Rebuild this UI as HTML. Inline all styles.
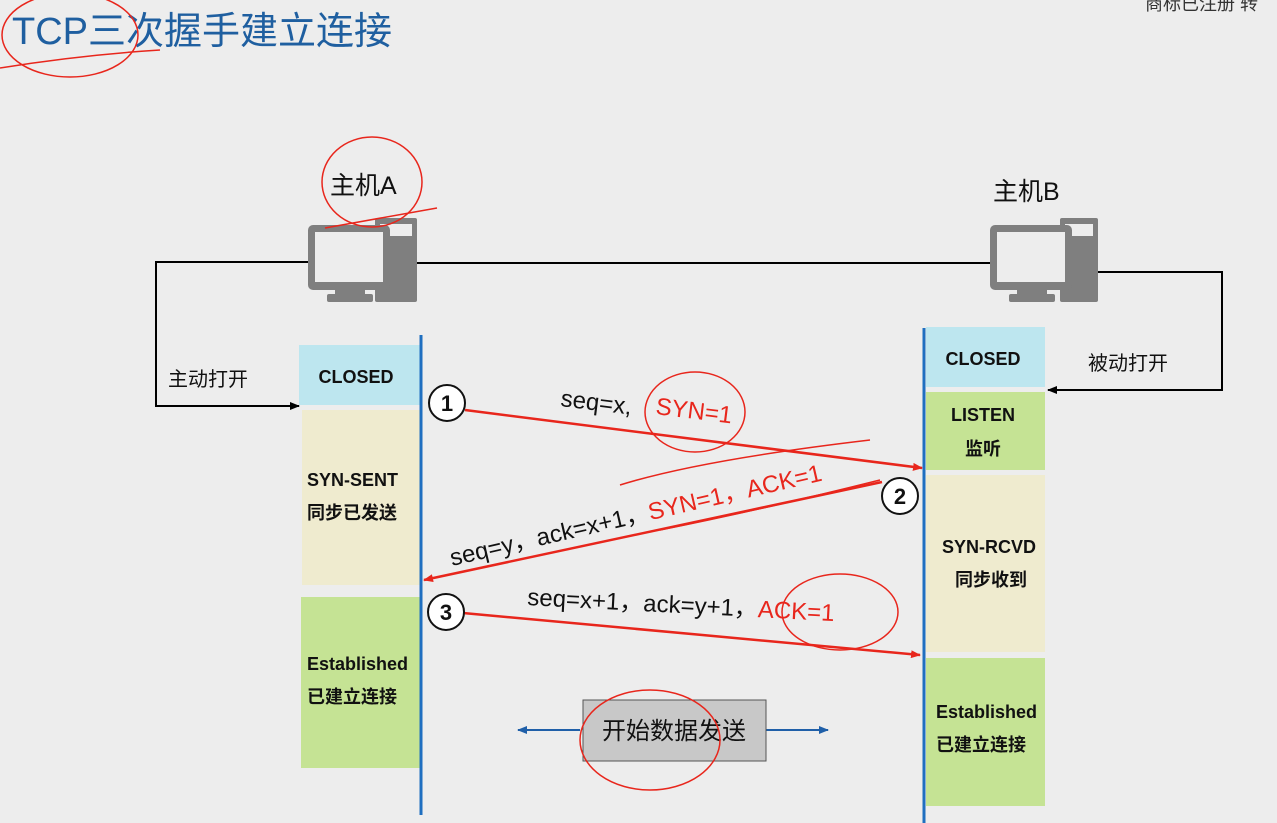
<!DOCTYPE html>
<html><head><meta charset="utf-8"><style>
body{margin:0;background:#ededed;}
svg{display:block;font-family:"Liberation Sans","Noto Sans CJK SC",sans-serif;}
</style></head><body>
<svg width="1277" height="823" viewBox="0 0 1277 823" xmlns="http://www.w3.org/2000/svg">
<defs>
<marker id="ak" markerUnits="userSpaceOnUse" markerWidth="10" markerHeight="8" refX="9" refY="4" orient="auto"><path d="M0,0 L10,4 L0,8 z" fill="#000"/></marker>
<marker id="ar" markerUnits="userSpaceOnUse" markerWidth="10" markerHeight="8" refX="9" refY="4" orient="auto"><path d="M0,0 L10,4 L0,8 z" fill="#e8261c"/></marker>
<marker id="ab" markerUnits="userSpaceOnUse" markerWidth="10" markerHeight="8" refX="9" refY="4" orient="auto"><path d="M0,0 L10,4 L0,8 z" fill="#1f5fa8"/></marker>
</defs>
<rect width="1277" height="823" fill="#ededed"/>
<text x="12" y="44" font-size="38" fill="#1f5fa0">TCP三次握手建立连接</text>
<text x="1145" y="10" font-size="18" fill="#333">商标已注册 转</text>
<polyline points="308,262 156,262 156,406 299,406" fill="none" stroke="#000" stroke-width="2" marker-end="url(#ak)"/>
<line x1="417" y1="263" x2="990" y2="263" stroke="#000" stroke-width="2"/>
<polyline points="1098,272 1222,272 1222,390 1048,390" fill="none" stroke="#000" stroke-width="2" marker-end="url(#ak)"/>
<g fill="#7f7f7f">
<rect x="375" y="218" width="42" height="84" rx="2"/>
<rect x="380" y="224" width="32" height="12" fill="#ededed"/>
<rect x="308" y="225" width="82" height="65" rx="5"/>
<rect x="315" y="232" width="68" height="50" fill="#ededed"/>
<rect x="335" y="289" width="30" height="7"/>
<rect x="327" y="294" width="46" height="8" rx="2"/>
</g>
<g fill="#7f7f7f">
<rect x="1060" y="218" width="38" height="84" rx="2"/>
<rect x="1065" y="224" width="28" height="12" fill="#ededed"/>
<rect x="990" y="225" width="82" height="65" rx="5"/>
<rect x="997" y="232" width="68" height="50" fill="#ededed"/>
<rect x="1017" y="289" width="30" height="7"/>
<rect x="1009" y="294" width="46" height="8" rx="2"/>
</g>
<text x="330" y="194" font-size="25" fill="#111">主机A</text>
<text x="993" y="200" font-size="25" fill="#111">主机B</text>
<text x="168" y="386" font-size="20" fill="#111">主动打开</text>
<text x="1088" y="370" font-size="20" fill="#111">被动打开</text>
<g font-weight="bold" font-size="18" fill="#111">
<rect x="299" y="345" width="121" height="60" fill="#bde6ef"/>
<text x="356" y="383" text-anchor="middle">CLOSED</text>
<rect x="302" y="410" width="118" height="175" fill="#efebcf"/>
<text x="307" y="486">SYN-SENT</text><text x="307" y="519">同步已发送</text>
<rect x="301" y="597" width="119" height="171" fill="#c5e394"/>
<text x="307" y="670">Established</text><text x="307" y="703">已建立连接</text>
<rect x="926" y="327" width="119" height="60" fill="#bde6ef"/>
<text x="983" y="365" text-anchor="middle">CLOSED</text>
<rect x="926" y="392" width="119" height="78" fill="#c5e394"/>
<text x="983" y="421" text-anchor="middle">LISTEN</text><text x="983" y="455" text-anchor="middle">监听</text>
<rect x="926" y="475" width="119" height="177" fill="#efebcf"/>
<text x="942" y="553">SYN-RCVD</text><text x="955" y="586">同步收到</text>
<rect x="926" y="658" width="119" height="148" fill="#c5e394"/>
<text x="936" y="718">Established</text><text x="936" y="751">已建立连接</text>
</g>
<line x1="421" y1="335" x2="421" y2="815" stroke="#1f6fc0" stroke-width="3"/>
<line x1="924" y1="328" x2="924" y2="823" stroke="#1f6fc0" stroke-width="3"/>
<line x1="465" y1="410" x2="922" y2="468" stroke="#e8261c" stroke-width="2.5" marker-end="url(#ar)"/>
<line x1="882" y1="482" x2="424" y2="580" stroke="#e8261c" stroke-width="2.5" marker-end="url(#ar)"/>
<line x1="463" y1="613" x2="920" y2="655" stroke="#e8261c" stroke-width="2.5" marker-end="url(#ar)"/>
<g fill="#fff" stroke="#111" stroke-width="2">
<circle cx="447" cy="403" r="18"/><circle cx="900" cy="496" r="18"/><circle cx="446" cy="612" r="18"/>
</g>
<g font-size="22" font-weight="bold" text-anchor="middle" fill="#111">
<text x="447" y="411">1</text><text x="900" y="504">2</text><text x="446" y="620">3</text>
</g>
<g font-size="24" fill="#111">
<text transform="translate(560,406) rotate(7)">seq=x,</text>
<text transform="translate(655,414) rotate(7)" fill="#e8261c">SYN=1</text>
<text transform="translate(452,566) rotate(-13)">seq=y，ack=x+1，<tspan fill="#e8261c">SYN=1，ACK=1</tspan></text>
<text transform="translate(527,605) rotate(3)">seq=x+1，ack=y+1，<tspan fill="#e8261c">ACK=1</tspan></text>
</g>
<line x1="580" y1="730" x2="518" y2="730" stroke="#1f5fa8" stroke-width="2" marker-end="url(#ab)"/>
<line x1="766" y1="730" x2="828" y2="730" stroke="#1f5fa8" stroke-width="2" marker-end="url(#ab)"/>
<rect x="583" y="700" width="183" height="61" fill="#c8c8c8" stroke="#555" stroke-width="1"/>
<text x="674" y="739" font-size="24" text-anchor="middle" fill="#111">开始数据发送</text>
<g fill="none" stroke="#e8261c" stroke-width="1.5">
<ellipse cx="70" cy="35" rx="68" ry="42"/>
<path d="M0,68 Q80,55 160,50"/>
<ellipse cx="372" cy="182" rx="50" ry="45"/>
<path d="M325,228 L437,208"/>
<ellipse cx="695" cy="412" rx="50" ry="40"/>
<path d="M620,485 Q700,460 870,440 M660,530 Q760,510 880,480"/>
<ellipse cx="840" cy="612" rx="58" ry="38"/>
<ellipse cx="650" cy="740" rx="70" ry="50"/>
</g>
</svg>
</body></html>
